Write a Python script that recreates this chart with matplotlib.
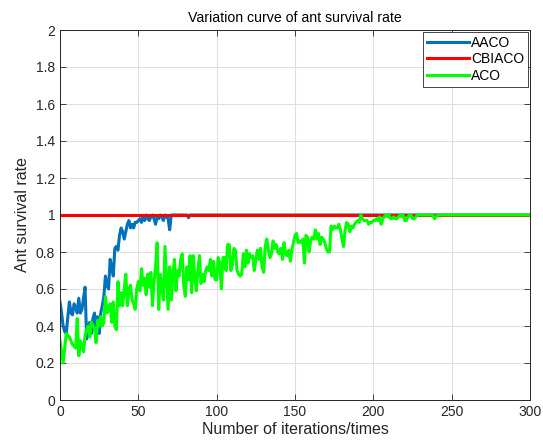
import matplotlib
matplotlib.use("Agg")
import matplotlib.pyplot as plt
import numpy as np

plt.rcParams['font.family'] = ['Liberation Sans', 'DejaVu Sans']

title = "Variation curve of ant survival rate"
xlabel = "Number of iterations/times"
ylabel = "Ant survival rate"
series_names = ["AACO", "CBIACO", "ACO"]
xticks = [0, 50, 100, 150, 200, 250, 300]
yticks = [0, 0.2, 0.4, 0.6, 0.8, 1, 1.2, 1.4, 1.6, 1.8, 2]

# AACO survival rate per iteration (iteration 0 onwards), then 1.0 up to 300
aaco = [0.53, 0.47, 0.40, 0.37, 0.36, 0.45, 0.53, 0.47, 0.46, 0.52,
        0.50, 0.47, 0.55, 0.47, 0.49, 0.55, 0.61, 0.33, 0.40, 0.42,
        0.36, 0.44, 0.47, 0.40, 0.45, 0.36, 0.47, 0.51, 0.56, 0.67,
        0.62, 0.60, 0.76, 0.72, 0.67, 0.82, 0.83, 0.81, 0.89, 0.93,
        0.91, 0.87, 0.91, 0.95, 0.97, 0.93, 0.95, 0.93, 0.96, 0.96,
        0.97, 0.98, 0.96, 0.99, 0.97, 1.00, 0.98, 0.97, 0.99, 1.00,
        0.98, 0.95, 0.99, 0.98, 1.00, 0.99, 0.97, 1.00, 0.99, 0.98,
        0.92, 1.00, 1.00, 1.00, 1.00, 1.00, 1.00, 1.00, 1.00, 1.00,
        1.00, 1.00, 0.985, 1.00, 1.00, 1.00, 1.00, 1.00, 1.00, 1.00]
aaco_last_x = 300
aaco_last = 1.0

# CBIACO: constant survival rate
cbiaco_x = [0, 300]
cbiaco = [1.0, 1.0]

# ACO survival rate per iteration (0..250), then 1.0 up to 300
aco = [0.32, 0.26, 0.20, 0.28, 0.36, 0.35, 0.34, 0.32, 0.30, 0.29,
       0.28, 0.44, 0.24, 0.32, 0.29, 0.26, 0.35, 0.38, 0.40, 0.34,
       0.42, 0.40, 0.39, 0.31, 0.43, 0.40, 0.45, 0.40, 0.42, 0.56,
       0.47, 0.50, 0.52, 0.42, 0.53, 0.40, 0.38, 0.64, 0.51, 0.58,
       0.51, 0.60, 0.68, 0.51, 0.60, 0.62, 0.54, 0.52, 0.49, 0.60,
       0.64, 0.59, 0.71, 0.62, 0.66, 0.57, 0.68, 0.61, 0.69, 0.51,
       0.64, 0.72, 0.85, 0.49, 0.68, 0.60, 0.54, 0.83, 0.66, 0.49,
       0.72, 0.54, 0.66, 0.76, 0.59, 0.70, 0.67, 0.76, 0.79, 0.62,
       0.56, 0.72, 0.65, 0.78, 0.58, 0.78, 0.67, 0.59, 0.70, 0.78,
       0.63, 0.68, 0.64, 0.70, 0.72, 0.70, 0.76, 0.67, 0.75, 0.65,
       0.65, 0.77, 0.74, 0.60, 0.77, 0.77, 0.70, 0.84, 0.84, 0.70,
       0.73, 0.82, 0.81, 0.70, 0.68, 0.67, 0.68, 0.79, 0.72, 0.81,
       0.74, 0.79, 0.77, 0.78, 0.70, 0.76, 0.81, 0.76, 0.82, 0.72,
       0.69, 0.83, 0.87, 0.81, 0.77, 0.79, 0.86, 0.82, 0.84, 0.80,
       0.79, 0.82, 0.76, 0.85, 0.79, 0.78, 0.81, 0.75, 0.81, 0.85,
       0.89, 0.90, 0.85, 0.86, 0.85, 0.87, 0.74, 0.89, 0.88, 0.80,
       0.86, 0.88, 0.87, 0.92, 0.87, 0.90, 0.84, 0.88, 0.87, 0.85,
       0.82, 0.80, 0.80, 0.94, 0.92, 0.94, 0.93, 0.93, 0.95, 0.92,
       0.87, 0.83, 0.92, 0.96, 0.95, 0.91, 0.94, 0.93, 0.95, 0.96,
       0.97, 0.96, 1.00, 0.98, 0.97, 0.97, 0.97, 0.95, 0.96, 0.96,
       0.97, 0.97, 0.98, 0.97, 0.99, 0.95, 0.98, 0.99, 1.00, 0.99,
       1.00, 0.98, 0.98, 0.99, 0.98, 0.98, 0.99, 1.00, 0.99, 1.00,
       0.97, 0.97, 0.99, 1.00, 1.00, 0.98, 0.98, 0.99, 1.00, 1.00,
       1.00, 1.00, 1.00, 1.00, 1.00, 1.00, 1.00, 1.00, 1.00, 0.98,
       0.99, 1.00, 1.00, 1.00, 1.00, 1.00, 1.00, 1.00, 1.00, 1.00,
       1.00]
aco_last_x = 300
aco_last = 1.0

colors = ["#0072BD", "#FF0000", "#00FF00"]

fig = plt.figure(figsize=(5.43, 4.43), dpi=100)
ax = fig.add_axes([60/543, 43/443, 470/543, 370/443])

aaco_x = np.append(np.arange(len(aaco)), aaco_last_x)
aaco_y = np.append(aaco, aaco_last)
aco_x = np.append(np.arange(len(aco)), aco_last_x)
aco_y = np.append(aco, aco_last)

ax.plot(aaco_x, aaco_y, color=colors[0], lw=2.2, label=series_names[0])
ax.plot(cbiaco_x, cbiaco, color=colors[1], lw=2.2, label=series_names[1])
ax.plot(aco_x, aco_y, color=colors[2], lw=2.2, label=series_names[2])

ax.set_xlim(0, 300)
ax.set_ylim(0, 2)
ax.set_xticks(xticks)
ax.set_yticks(yticks)
ax.set_yticklabels([f"{v:g}" for v in yticks])
ax.grid(True, color="#dfdfdf", lw=0.8)
ax.set_axisbelow(True)
ax.tick_params(direction="in", length=4, width=0.6, colors="#262626",
               labelsize=10, top=True, right=True, labelcolor="#262626")
for s in ax.spines.values():
    s.set_color("#262626")
    s.set_linewidth(0.7)

ax.set_title(title, fontsize=10.2, color="#000000", pad=6)
ax.set_xlabel(xlabel, fontsize=11.5, color="#262626", labelpad=2)
ax.set_ylabel(ylabel, fontsize=11.5, color="#262626", labelpad=4)

leg = ax.legend(loc="upper right", fontsize=10, frameon=True, fancybox=False,
                edgecolor="#262626", framealpha=1, borderaxespad=0.15,
                handlelength=3.0, handletextpad=0.2, labelspacing=0.2,
                borderpad=0.25)
leg.get_frame().set_linewidth(0.6)

fig.savefig("out.png", dpi=100)
